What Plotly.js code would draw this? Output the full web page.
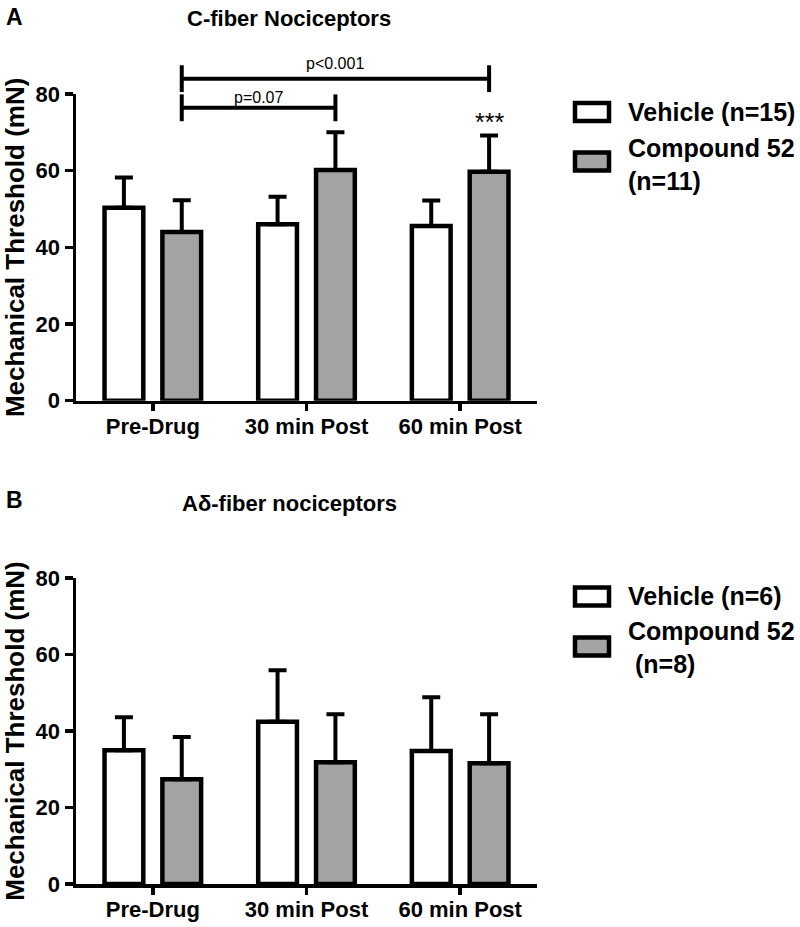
<!DOCTYPE html>
<html>
<head>
<meta charset="utf-8">
<script src="https://cdn.plot.ly/plotly-3.0.1.min.js"></script>
<style>body{margin:0;background:#fff}</style>
</head>
<body>
<div id="graf" style="width:800px;height:927px"></div>
<script>
var categorias = ["Pre-Drug", "30 min Post", "60 min Post"];

// A: C-fiber
var vehiculoA = [50.3, 46.0, 45.6];
var vehiculoA_err = [7.9, 7.2, 6.6];
var compuestoA = [44.0, 60.2, 59.7];
var compuestoA_err = [8.3, 9.8, 9.5];

// B: A-delta
var vehiculoB = [35.0, 42.4, 34.8];
var vehiculoB_err = [8.6, 13.5, 14.0];
var compuestoB = [27.4, 31.8, 31.6];
var compuestoB_err = [11.0, 12.6, 12.8];

var leyendaA = ["Vehicle (n=15)", "Compound 52<br>(n=11)"];
var leyendaB = ["Vehicle (n=6)", "Compound 52<br> (n=8)"];
var titulos = ["C-fiber Nociceptors", "A\u03b4-fiber nociceptors"];
var ejeY = "Mechanical Threshold (mN)";

var gris = "#a3a3a3";
var fuente = "Liberation Sans, Arial, Helvetica, sans-serif";
var bargap = 0.247;
var desplaz = (1 - bargap) / 4;   // centro de la 2a barra del grupo

// margenes en px -> coordenadas paper
var W = 800, H = 927, L = 76, R = 263, T = 94, B = 43;
function px(x) { return (x - L) / (W - L - R); }
function py(y) { return (H - B - y) / (H - T - B); }

function barra(y, err, color, xa, ya) {
    return {
        type: 'bar', x: categorias, y: y, xaxis: xa, yaxis: ya,
        showlegend: false,
        marker: {color: color, line: {color: 'black', width: 4.5}},
        error_y: {type: 'data', symmetric: false, array: err, arrayminus: err.map(function () { return 0; }),
                  color: 'black', thickness: 4, width: 9}
    };
}

var data = [
    barra(vehiculoA, vehiculoA_err, 'white', 'x', 'y'),
    barra(compuestoA, compuestoA_err, gris, 'x', 'y'),
    barra(vehiculoB, vehiculoB_err, 'white', 'x2', 'y2'),
    barra(compuestoB, compuestoB_err, gris, 'x2', 'y2')
];

var eje = {
    showline: true, linecolor: 'black', linewidth: 3.5,
    ticks: 'outside', ticklen: 8, tickwidth: 3.5, tickcolor: 'black',
    showgrid: false, zeroline: false,
    tickfont: {family: fuente, size: 22, color: 'black', weight: 'bold'}
};
function ejeX(anchor) {
    return Object.assign({}, eje, {type: 'category', range: [-0.5, 2.5], anchor: anchor, ticklen: 7,
        ticklabelstandoff: -4});
}
function ejeVert(anchor, dom) {
    return Object.assign({}, eje, {
        range: [0, 80], dtick: 20, domain: dom, anchor: anchor,
        title: {text: ejeY, standoff: 10, font: {family: fuente, size: 26, color: 'black', weight: 'bold'}}
    });
}

var shapes = [];
var annotations = [];

// corchetes de significancia (panel A)
var corchetes = [
    {desde: 0, hasta: 1, y: 76.4, texto: 'p=0.07', sep: 0},
    {desde: 0, hasta: 2, y: 84.0, texto: 'p<0.001', sep: 5}
];
corchetes.forEach(function (c) {
    var x0 = c.desde + desplaz, x1 = c.hasta + desplaz;
    var ln = {color: 'black', width: 4};
    shapes.push({type: 'line', xref: 'x', yref: 'y domain', x0: x0, x1: x1, y0: c.y / 80, y1: c.y / 80, line: ln});
    shapes.push({type: 'line', xref: 'x', yref: 'y domain', x0: x0, x1: x0, y0: (c.y - 3.5) / 80, y1: (c.y + 3.5) / 80, line: ln});
    shapes.push({type: 'line', xref: 'x', yref: 'y domain', x0: x1, x1: x1, y0: (c.y - 3.5) / 80, y1: (c.y + 3.5) / 80, line: ln});
    annotations.push({xref: 'x', yref: 'y domain', x: (x0 + x1) / 2, y: c.y / 80, yanchor: 'bottom', yshift: c.sep,
        text: c.texto, showarrow: false, font: {family: fuente, size: 16, color: 'black'}});
});
annotations.push({xref: 'x', yref: 'y', x: 2 + desplaz, y: 72.8, text: '***', showarrow: false,
    font: {family: fuente, size: 25, color: 'black'}});

// leyendas dibujadas a mano
function leyenda(textos, yCaja, yTexto) {
    var rellenos = ['white', gris];
    for (var i = 0; i < 2; i++) {
        shapes.push({type: 'rect', xref: 'paper', yref: 'paper', x0: px(575), x1: px(609),
            y0: py(yCaja[i] - 9), y1: py(yCaja[i] + 9), fillcolor: rellenos[i], line: {color: 'black', width: 4.5}});
        annotations.push({xref: 'paper', yref: 'paper', x: px(626), y: py(yTexto[i]), xanchor: 'left', yanchor: 'middle',
            align: 'left', text: textos[i], showarrow: false,
            font: {family: fuente, size: 25, color: 'black', weight: 'bold'}});
    }
}
leyenda(leyendaA, [112, 161.5], [112, 164]);
leyenda(leyendaB, [596.5, 646.5], [596, 647.5]);

// titulos y letras de panel
function texto(t, x, y, size, anchor) {
    annotations.push({xref: 'paper', yref: 'paper', x: px(x), y: py(y), xanchor: anchor, yanchor: 'middle',
        text: t, showarrow: false, font: {family: fuente, size: size, color: 'black', weight: 'bold'}});
}
texto(titulos[0], 289, 19, 22, 'center');
texto(titulos[1], 289, 503, 22, 'center');
texto('A', 4, 17, 23, 'left');
texto('B', 4, 500, 23, 'left');

var layout = {
    width: W, height: H,
    margin: {l: L, r: R, t: T, b: B},
    paper_bgcolor: 'white', plot_bgcolor: 'white',
    barmode: 'group', bargap: bargap, bargroupgap: 0.33,
    font: {family: fuente, color: 'black'},
    xaxis: ejeX('y'),
    xaxis2: ejeX('y2'),
    yaxis: ejeVert('x', [(884 - 400.7) / 790, 1]),
    yaxis2: ejeVert('x2', [0, (884 - 578) / 790]),
    shapes: shapes,
    annotations: annotations,
    showlegend: false
};

Plotly.newPlot(document.getElementById('graf'), data, layout, {staticPlot: true});
</script>
</body>
</html>
